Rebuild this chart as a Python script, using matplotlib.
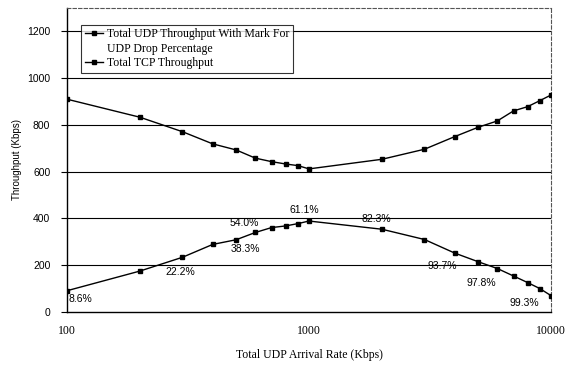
import numpy as np
import matplotlib.pyplot as plt
from matplotlib.lines import Line2D
from matplotlib.ticker import FixedLocator, NullLocator, FixedFormatter

# 到达速率 (Kbps)
arrival_rate = [100, 200, 300, 400, 500, 600, 700, 800, 900, 1000,
                2000, 3000, 4000, 5000, 6000, 7000, 8000, 9000, 10000]
# UDP 总吞吐量 (Kbps)
udp_throughput = [91, 175, 234, 289, 309, 340, 361, 368, 378, 389,
                  354, 310, 252, 215, 186, 154, 126, 100, 70]
# TCP 总吞吐量 (Kbps)
tcp_throughput = [910, 833, 771, 719, 693, 658, 643, 633, 626, 612,
                  653, 696, 750, 790, 817, 860, 878, 904, 928]

# UDP 丢包率标注
drop_labels = ['8.6%', '22.2%', '38.3%', '54.0%', '61.1%', '82.3%', '93.7%', '97.8%', '99.3%']
drop_rates = [100, 300, 500, 800, 1000, 2000, 4000, 7000, 10000]

x_ticks = [100, 1000, 10000]
y_ticks = [0, 200, 400, 600, 800, 1000, 1200]

# 标注相对数据点的偏移 (像素)
label_offsets = [(13, -8), (-2, -15), (9, -9), (-41, 3), (-5, 11),
                 (-6, 10), (-12, -13), (-32, -7), (-27, -7)]

serif = 'Liberation Serif'
sans = 'Liberation Sans'

fig = plt.figure(figsize=(5.74, 3.66), dpi=100)
ax = fig.add_axes([67 / 574, 54 / 366, 484 / 574, 304 / 366])

# 水平网格线
for y in y_ticks[1:]:
    ax.axhline(y, color='black', linewidth=0.8, zorder=1)

ax.plot(arrival_rate, udp_throughput, '-s', color='black', linewidth=1.0,
        markersize=3.5, zorder=3)
ax.plot(arrival_rate, tcp_throughput, '-s', color='black', linewidth=1.0,
        markersize=3.5, zorder=3)

# 丢包率标注
udp_at = dict(zip(arrival_rate, udp_throughput))
for text, rate, off in zip(drop_labels, drop_rates, label_offsets):
    ax.annotate(text, (rate, udp_at[rate]), xytext=off, textcoords='offset pixels',
                ha='center', va='center', fontsize=7.5, family=sans, zorder=4)

ax.set_xscale('log')
ax.set_xlim(100, 10000)
ax.set_ylim(0, 1300)
ax.xaxis.set_major_locator(FixedLocator(x_ticks))
ax.xaxis.set_major_formatter(FixedFormatter([str(v) for v in x_ticks]))
ax.xaxis.set_minor_locator(NullLocator())
ax.set_yticks(y_ticks)

for lbl in ax.get_xticklabels():
    lbl.set_fontfamily(serif)
    lbl.set_fontsize(8.5)
for lbl in ax.get_yticklabels():
    lbl.set_fontfamily(sans)
    lbl.set_fontsize(7.5)

ax.tick_params(axis='x', length=0, pad=9)
ax.tick_params(axis='y', length=4, width=0.8, pad=8)

ax.spines['left'].set_linewidth(1.0)
ax.spines['bottom'].set_linewidth(1.0)
for side in ['top', 'right']:
    ax.spines[side].set_linestyle((0, (3, 2)))
    ax.spines[side].set_linewidth(0.8)
    ax.spines[side].set_color('#555555')

ax.set_xlabel('Total UDP Arrival Rate (Kbps)', family=serif, fontsize=8.5, labelpad=9)
ax.set_ylabel('Throughput (Kbps)', family=sans, fontsize=7)
ax.yaxis.set_label_coords(-0.093, 0.5)

# 图例：第一项分两行，第二行不带图标
series_handle = Line2D([], [], color='black', marker='s', markersize=3.5, linewidth=1.0)
blank_handle = Line2D([], [], linestyle='none')
leg = ax.legend([series_handle, blank_handle, series_handle],
                ['Total UDP Throughput With Mark For', 'UDP Drop Percentage', 'Total TCP Throughput'],
                loc='upper left', bbox_to_anchor=(14 / 484, 0.945), prop={'family': serif, 'size': 8.5},
                frameon=True, fancybox=False, handlelength=1.6, handletextpad=0.3,
                borderpad=0.3, labelspacing=0.2, borderaxespad=0)
leg.get_frame().set_edgecolor('black')
leg.get_frame().set_linewidth(0.8)

plt.savefig('out.png', dpi=100)
plt.close()
